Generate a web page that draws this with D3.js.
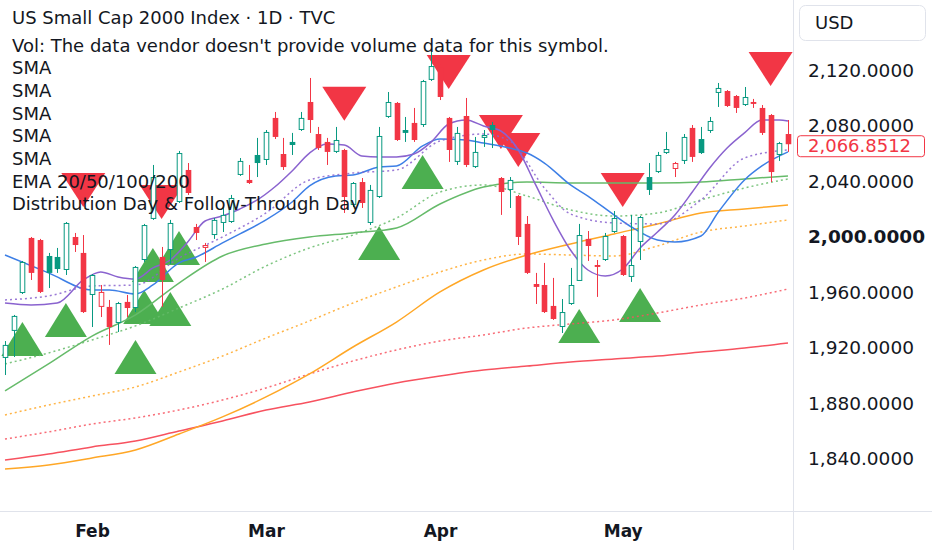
<!DOCTYPE html>
<html>
<head>
<meta charset="utf-8">
<script src="https://cdn.jsdelivr.net/npm/d3@7"></script>
<style>
  html, body { margin: 0; padding: 0; background: #fff; }
  svg { display: block; font-family: "DejaVu Sans", sans-serif; }
</style>
</head>
<body>
<svg id="chart" width="932" height="550"></svg>
<script>
// ---- DATA ----
const opens = [1912.8,1932.3,1959.6,1999.3,1997.8,1986.3,1985.6,1976.2,2000.0,1988.5,
  1958.2,1949.6,1949.6,1938.0,1953.2,1948.8,1983.4,2013.0,1985.6,1990.6,
  2025.2,2048.3,2007.2,1992.1,2001.4,2010.1,2010.8,2044.7,2041.1,2059.1,
  2055.5,2085.8,2059.8,2068.5,2077.1,2097.3,2074.2,2068.5,2061.3,2062.7,
  2023.1,2039.6,2010.1,2028.8,2086.5,2096.6,2077.1,2082.2,2080.7,2113.2,
  2122.5,2085.8,2054.1,2087.2,2050.4,2071.4,2080.7,2042.5,2033.9,2029.5,
  2009.4,1966.1,1965.4,1950.3,1935.1,1951.7,1968.3,1998.6,1979.8,1983.4,
  2003.6,2000.7,1971.2,1996.4,2043.2,2046.8,2060.5,2049.0,2054.8,2078.6,
  2070.6,2076.4,2103.8,2105.2,2101.6,2095.1,2097.3,2093.0,2087.9,2059.1,
  2074.2];
const highs = [1925.0,1943.8,1982.7,2000.0,1998.6,1988.5,1992.1,2010.8,2002.9,2001.4,
  1973.3,1965.4,1954.6,1953.2,1958.2,1979.1,2009.4,2051.9,1992.8,2012.3,
  2062.0,2053.3,2009.4,1995.7,2013.7,2021.6,2030.3,2056.9,2051.9,2071.4,
  2077.1,2090.1,2071.4,2075.0,2090.1,2114.6,2079.3,2071.4,2079.3,2063.5,
  2039.6,2042.5,2037.5,2079.3,2104.5,2097.3,2086.5,2093.0,2113.2,2133.3,
  2124.0,2086.5,2079.3,2100.2,2072.1,2077.1,2082.9,2043.2,2043.2,2030.3,
  2015.1,1974.1,1981.3,1970.5,1955.3,1977.7,2009.4,2004.3,1983.4,2002.9,
  2018.7,2001.4,2015.9,2015.1,2053.3,2061.3,2075.7,2054.1,2074.2,2080.7,
  2079.3,2086.5,2111.0,2105.9,2102.3,2108.1,2099.5,2095.1,2088.6,2068.5,
  2084.3];
const lows = [1900.5,1913.5,1958.9,1969.0,1959.6,1963.2,1974.1,1972.6,1989.2,1945.2,
  1935.1,1942.3,1922.2,1931.5,1942.3,1945.9,1982.0,2012.3,1949.6,1980.5,
  2024.5,2030.3,1997.8,1982.0,1998.6,2003.6,2010.1,2044.0,2038.2,2043.2,
  2051.9,2070.6,2048.3,2059.1,2076.4,2075.0,2062.7,2051.9,2060.5,2017.3,
  2021.6,2020.9,2008.6,2028.1,2085.8,2069.2,2068.5,2068.5,2079.3,2112.4,
  2098.7,2054.1,2051.9,2050.4,2049.7,2064.9,2064.1,2015.9,2020.9,1994.2,
  1973.3,1951.7,1945.2,1940.2,1930.8,1951.0,1968.3,1982.7,1956.8,1982.7,
  2002.9,1971.9,1967.6,1983.4,2030.3,2046.1,2059.8,2043.2,2052.6,2054.1,
  2059.8,2075.0,2093.7,2093.7,2089.4,2094.4,2093.0,2073.5,2039.6,2054.8,
  2061.3];
const closes = [1922.2,1943.1,1982.0,1974.1,1960.4,1974.1,1976.9,2010.1,1994.2,1945.9,
  1972.6,1960.4,1935.1,1952.4,1948.8,1978.4,2008.6,2043.2,1969.0,2010.1,
  2060.5,2031.7,2002.9,1994.2,2012.3,2015.9,2028.1,2054.8,2038.9,2053.3,
  2075.7,2072.1,2050.4,2066.3,2085.8,2084.3,2064.1,2061.3,2069.9,2028.8,
  2038.9,2024.5,2033.9,2072.8,2097.3,2069.9,2075.0,2069.9,2112.4,2123.2,
  2100.9,2062.7,2075.0,2051.9,2061.3,2073.5,2077.1,2032.4,2041.1,2000.0,
  1974.1,1964.0,1945.9,1940.9,1945.9,1965.4,2001.4,1993.5,1978.4,2000.7,
  2013.7,1972.6,1979.8,2014.4,2033.9,2059.1,2063.4,2053.3,2072.1,2057.7,
  2060.5,2083.6,2107.4,2094.4,2093.0,2100.9,2095.9,2075.0,2046.8,2067.7,
  2066.85];

// bars flagged by the indicator
const distributionDays = [9, 18, 39, 51, 57, 59, 71, 88];
const followThroughDays = [2, 7, 15, 16, 17, 19, 20, 43, 48, 66, 73];

// moving averages, sampled at bar indices
const slowIdx = [0,5,10,15,20,25,30,35,40,45,50,55,60,65,70,75,80,85,90];
const redSolid = [1839.3,1843.6,1848.7,1853.0,1860.2,1867.4,1875.3,1881.1,1888.3,1894.8,1899.8,1904.1,1907.0,1909.9,1912.1,1914.2,1917.1,1920.0,1923.6];
const redDotted = [1854.4,1859.5,1865.2,1869.6,1875.3,1882.5,1891.2,1901.3,1910.6,1918.6,1925.0,1929.4,1934.4,1937.3,1940.2,1945.2,1951.0,1956.0,1962.5];
const orangeSolid = [1832.8,1835.7,1840.7,1846.5,1858.0,1870.3,1884.7,1901.3,1920.7,1938.7,1960.4,1976.2,1987.0,1995.0,2002.2,2009.4,2017.3,2020.2,2023.1];
const orangeDotted = [1871.7,1878.9,1885.4,1891.9,1902.7,1914.2,1927.2,1939.5,1952.4,1964.0,1974.8,1983.4,1987.7,1987.0,1986.3,1993.5,2003.6,2007.9,2012.3];
const greenSolid = [1889.0,1908.5,1928.6,1943.8,1966.8,1986.3,1995.0,2000.0,2002.9,2006.5,2023.8,2036.0,2039.6,2038.9,2038.9,2038.9,2039.6,2041.8,2044.0];
const greenDotted = [1908.5,1916.4,1925.8,1935.9,1948.8,1962.5,1979.1,1992.1,2001.4,2013.7,2032.4,2037.5,2029.5,2019.5,2015.1,2017.3,2026.7,2035.3,2041.8];

const purpleIdx = [0,3,6,9,11,13,15,17,19,21,23,25,27,29,31,33,35,37,39,41,43,45,47,49,51,53,55,57,59,61,63,65,67,69,71,73,75,77,79,81,83,85,87,89,90];
const purpleSolid = [1952.4,1951.0,1952.4,1969.0,1974.8,1971.2,1969.7,1977.7,1983.4,1996.4,2011.5,2015.1,2020.2,2026.7,2036.0,2047.6,2060.5,2067.0,2066.3,2058.4,2057.7,2057.7,2059.8,2068.5,2081.4,2084.3,2080.0,2076.4,2062.7,2037.5,2012.3,1990.6,1976.2,1971.9,1976.9,1992.1,2003.6,2015.9,2032.4,2049.7,2064.1,2075.0,2084.3,2084.3,2083.6];

const purpleDotIdx = [0,5,10,15,20,25,30,35,40,45,50,55,58,62,65,70,75,80,85,90];
const purpleDotted = [1954.6,1957.5,1964.7,1965.4,1984.9,2000.0,2017.3,2041.1,2046.1,2048.3,2069.2,2074.2,2069.2,2035.3,2016.6,2010.1,2009.4,2026.7,2056.9,2062.7];

const blueIdx = [0,5,10,12,15,17,20,22,25,27,30,33,35,38,40,43,45,48,50,53,55,58,60,62,65,67,70,72,75,77,80,82,85,87,90];
const blueSolid = [1987.0,1974.1,1961.8,1961.8,1958.9,1965.4,1981.3,1985.6,1995.7,2002.2,2012.3,2025.2,2036.8,2044.0,2044.7,2050.4,2051.2,2065.6,2070.6,2069.9,2067.7,2064.1,2060.5,2053.3,2037.5,2029.5,2015.9,2007.2,1997.8,1996.4,2000.7,2018.0,2041.1,2051.2,2061.3];

const priceTicks = [2120, 2080, 2040, 2000, 1960, 1920, 1880, 1840];
const monthIdx = [10, 30, 50, 71];
const monthLabels = ["Feb", "Mar", "Apr", "May"];
const lastPrice = 2066.8512;

const legendLines = [
  "US Small Cap 2000 Index · 1D · TVC",
  "Vol: The data vendor doesn't provide volume data for this symbol.",
  "SMA", "SMA", "SMA", "SMA", "SMA",
  "EMA 20/50/100/200",
  "Distribution Day & Follow-Through Day"
];

// ---- LAYOUT ----
const W = 932, H = 550;
const plotR = 793, plotB = 511;
const UP = "#089981", DOWN = "#f23645", TXT = "#131722", LINE = "#e0e3eb";

const svg = d3.select("#chart");

const x = d3.scaleLinear().domain([0, 90]).range([5, 788]);
const y = d3.scaleLinear().domain([1802.5, 2170.8]).range([plotB, 0]);

svg.append("defs").append("clipPath").attr("id", "plot-clip")
  .append("rect").attr("x", 0).attr("y", 0).attr("width", plotR).attr("height", plotB);

const plot = svg.append("g").attr("clip-path", "url(#plot-clip)");

const bars = closes.map((c, i) => {
  const prev = i ? closes[i - 1] : opens[i];
  return { i, o: opens[i], h: highs[i], l: lows[i], c, up: c >= prev, hollow: c > opens[i] };
});

// markers (behind lines and candles)
const tri = plot.append("g");
tri.selectAll("path.dd")
  .data(distributionDays.map(i => bars[i]))
  .enter().append("path")
  .attr("class", "dd")
  .attr("fill", DOWN)
  .attr("d", d => {
    const cx = x(d.i), tip = y(d.h) - 28;
    return `M${cx - 22},${tip - 34}L${cx + 22},${tip - 34}L${cx},${tip}Z`;
  });
tri.selectAll("path.ftd")
  .data(followThroughDays.map(i => bars[i]))
  .enter().append("path")
  .attr("class", "ftd")
  .attr("fill", "#4caf50")
  .attr("d", d => {
    const cx = x(d.i), tip = y(d.l) + 28;
    return `M${cx - 21},${tip + 34}L${cx + 21},${tip + 34}L${cx},${tip}Z`;
  });

// moving averages
const maLine = d3.line().x(d => x(d[0])).y(d => y(d[1])).curve(d3.curveMonotoneX);
const maSpecs = [
  { idx: slowIdx, vals: redSolid, color: "#f7525f", dash: null },
  { idx: slowIdx, vals: redDotted, color: "#f7525f", dash: "2,3" },
  { idx: slowIdx, vals: orangeSolid, color: "#ffa726", dash: null },
  { idx: slowIdx, vals: orangeDotted, color: "#ffa726", dash: "2,3" },
  { idx: slowIdx, vals: greenSolid, color: "#66bb6a", dash: null },
  { idx: slowIdx, vals: greenDotted, color: "#66bb6a", dash: "2,3" },
  { idx: blueIdx, vals: blueSolid, color: "#3d7fe6", dash: null },
  { idx: purpleDotIdx, vals: purpleDotted, color: "#8a63cf", dash: "2,3" },
  { idx: purpleIdx, vals: purpleSolid, color: "#8a63cf", dash: null }
];
plot.append("g").selectAll("path")
  .data(maSpecs)
  .enter().append("path")
  .attr("fill", "none")
  .attr("stroke", d => d.color)
  .attr("stroke-width", 1.5)
  .attr("stroke-dasharray", d => d.dash)
  .attr("opacity", d => d.dash ? 0.85 : 1)
  .attr("d", d => maLine(d.idx.map((k, j) => [k, d.vals[j]])));

// candles
const bw = 5.6;
const cg = plot.append("g").selectAll("g")
  .data(bars)
  .enter().append("g");
cg.append("line")
  .attr("x1", d => Math.round(x(d.i)) + 0.5)
  .attr("x2", d => Math.round(x(d.i)) + 0.5)
  .attr("y1", d => y(d.h))
  .attr("y2", d => y(d.l))
  .attr("stroke", d => d.up ? UP : DOWN)
  .attr("stroke-width", 1);
cg.append("rect")
  .attr("x", d => Math.round(x(d.i)) + 0.5 - bw / 2 + (d.hollow ? 0.5 : 0))
  .attr("width", d => d.hollow ? bw - 1 : bw)
  .attr("y", d => y(Math.max(d.o, d.c)) + (d.hollow ? 0.5 : 0))
  .attr("height", d => Math.max(1, Math.abs(y(d.o) - y(d.c)) - (d.hollow ? 1 : 0)))
  .attr("fill", d => d.hollow ? "#fff" : (d.up ? UP : DOWN))
  .attr("stroke", d => d.hollow ? (d.up ? UP : DOWN) : "none")
  .attr("stroke-width", 1);

// frame
svg.append("line").attr("x1", plotR + 0.5).attr("x2", plotR + 0.5).attr("y1", 0).attr("y2", H)
  .attr("stroke", LINE);
svg.append("line").attr("x1", 0).attr("x2", W).attr("y1", plotB + 0.5).attr("y2", plotB + 0.5)
  .attr("stroke", LINE);

// price axis
const yAxis = svg.append("g")
  .attr("transform", `translate(${plotR},0)`)
  .call(d3.axisRight(y).tickValues(priceTicks).tickSize(0).tickPadding(15).tickFormat(d3.format(",.4f")));
yAxis.select(".domain").remove();
yAxis.selectAll("text")
  .attr("font-family", "DejaVu Sans, sans-serif")
  .attr("font-size", 18.5)
  .attr("fill", TXT)
  .attr("font-weight", d => d === 2000 ? "bold" : "normal");

// unit box
svg.append("rect").attr("x", 799.5).attr("y", 5.5).attr("width", 126).attr("height", 35).attr("rx", 6)
  .attr("fill", "#fff").attr("stroke", LINE);
svg.append("text").attr("x", 815).attr("y", 29).attr("font-size", 18).attr("fill", TXT).text("USD");

// last price label
const ly = y(lastPrice);
svg.append("rect").attr("x", 797.5).attr("y", ly - 8.5).attr("width", 127).attr("height", 21).attr("rx", 3)
  .attr("fill", "#fff").attr("stroke", DOWN);
svg.append("text").attr("x", 808).attr("y", ly + 8).attr("font-size", 18).attr("fill", DOWN)
  .text(d3.format(",.4f")(lastPrice));

// time axis
const xAxis = svg.append("g")
  .attr("transform", `translate(0,${plotB})`)
  .call(d3.axisBottom(x).tickValues(monthIdx).tickSize(0).tickPadding(14).tickFormat((d, i) => monthLabels[i]));
xAxis.select(".domain").remove();
xAxis.selectAll("text")
  .attr("font-family", "DejaVu Sans, sans-serif")
  .attr("font-size", 17)
  .attr("font-weight", "bold")
  .attr("fill", TXT);

// legend
svg.append("g").selectAll("text")
  .data(legendLines)
  .enter().append("text")
  .attr("x", 12)
  .attr("y", (d, i) => i === 0 ? 23.5 : 51.5 + (i - 1) * 22.7)
  .attr("font-size", 18)
  .attr("fill", TXT)
  .text(d => d);
</script>
</body>
</html>
